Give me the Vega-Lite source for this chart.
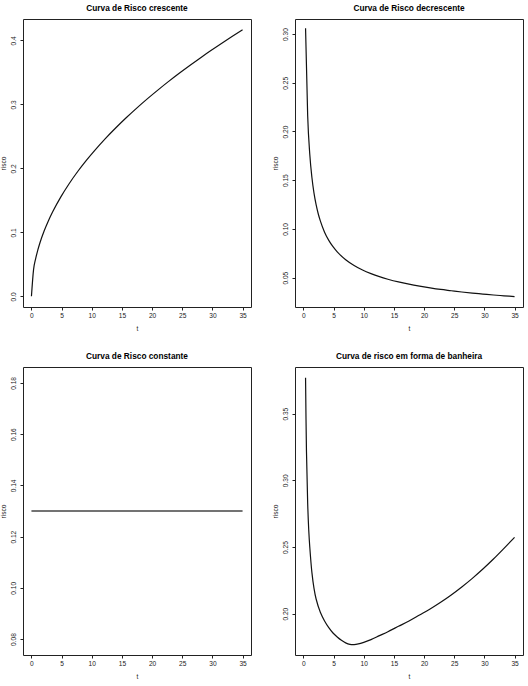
{
  "$schema": "https://vega.github.io/schema/vega-lite/v6.json",
  "background": "white",
  "padding": {"left": 0, "top": 3, "right": 0, "bottom": 0},
  "bounds": "flush",
  "columns": 2,
  "spacing": {"row": 60, "column": 44},
  "config": {
    "font": "Liberation Sans",
    "view": {"stroke": "#222", "strokeWidth": 1},
    "axis": {
      "grid": false,
      "domain": false,
      "ticks": true,
      "tickColor": "#222",
      "tickSize": 3,
      "labelFont": "Liberation Sans",
      "labelFontSize": 6.6,
      "labelColor": "#222",
      "titleFont": "Liberation Sans",
      "titleFontSize": 6.6,
      "titleFontWeight": "normal",
      "titleColor": "#222"
    },
    "axisX": {"labelPadding": 2.5, "titlePadding": 6.5},
    "axisY": {"labelAngle": 270, "labelAlign": "center", "labelBaseline": "bottom", "labelPadding": 4, "titlePadding": 3.5},
    "title": {"fontSize": 8.3, "fontWeight": "bold", "anchor": "middle", "frame": "group", "offset": 7, "color": "black"},
    "line": {"color": "#111", "strokeWidth": 1.2}
  },
  "datasets": {
    "crescente": [
      {"t": 0, "risco": 0},
      {"t": 0.35, "risco": 0.0416},
      {"t": 0.7, "risco": 0.0589},
      {"t": 1.05, "risco": 0.0721},
      {"t": 1.4, "risco": 0.0833},
      {"t": 2.1, "risco": 0.102},
      {"t": 2.8, "risco": 0.1178},
      {"t": 3.5, "risco": 0.1317},
      {"t": 4.9, "risco": 0.1558},
      {"t": 6.3, "risco": 0.1767},
      {"t": 7.7, "risco": 0.1954},
      {"t": 9.1, "risco": 0.2124},
      {"t": 10.5, "risco": 0.2281},
      {"t": 12.25, "risco": 0.2464},
      {"t": 14, "risco": 0.2634},
      {"t": 15.75, "risco": 0.2794},
      {"t": 17.5, "risco": 0.2945},
      {"t": 19.25, "risco": 0.3089},
      {"t": 21, "risco": 0.3226},
      {"t": 22.75, "risco": 0.3358},
      {"t": 24.5, "risco": 0.3485},
      {"t": 26.25, "risco": 0.3607},
      {"t": 28, "risco": 0.3725},
      {"t": 29.75, "risco": 0.384},
      {"t": 31.5, "risco": 0.3951},
      {"t": 33.25, "risco": 0.4059},
      {"t": 35, "risco": 0.4165}
    ],
    "decrescente": [
      {"t": 0.35, "risco": 0.3059},
      {"t": 0.7, "risco": 0.2163},
      {"t": 1.05, "risco": 0.1766},
      {"t": 1.4, "risco": 0.153},
      {"t": 1.75, "risco": 0.1368},
      {"t": 2.1, "risco": 0.1249},
      {"t": 2.45, "risco": 0.1156},
      {"t": 2.8, "risco": 0.1082},
      {"t": 3.5, "risco": 0.0967},
      {"t": 4.2, "risco": 0.0883},
      {"t": 4.9, "risco": 0.0818},
      {"t": 5.6, "risco": 0.0765},
      {"t": 7, "risco": 0.0684},
      {"t": 8.4, "risco": 0.0625},
      {"t": 9.8, "risco": 0.0578},
      {"t": 11.2, "risco": 0.0541},
      {"t": 12.6, "risco": 0.051},
      {"t": 14, "risco": 0.0484},
      {"t": 15.75, "risco": 0.0456},
      {"t": 17.5, "risco": 0.0433},
      {"t": 19.25, "risco": 0.0413},
      {"t": 21, "risco": 0.0395},
      {"t": 22.75, "risco": 0.0379},
      {"t": 24.5, "risco": 0.0366},
      {"t": 26.25, "risco": 0.0353},
      {"t": 28, "risco": 0.0342},
      {"t": 29.75, "risco": 0.0332},
      {"t": 31.5, "risco": 0.0322},
      {"t": 33.25, "risco": 0.0314},
      {"t": 35, "risco": 0.0306}
    ],
    "constante": [
      {"t": 0, "risco": 0.13},
      {"t": 35, "risco": 0.13}
    ],
    "banheira": [
      {"t": 0.35, "risco": 0.377},
      {"t": 0.5, "risco": 0.322},
      {"t": 0.7, "risco": 0.283},
      {"t": 0.875, "risco": 0.263},
      {"t": 1.05, "risco": 0.25},
      {"t": 1.4, "risco": 0.231},
      {"t": 1.75, "risco": 0.219},
      {"t": 2.1, "risco": 0.211},
      {"t": 2.8, "risco": 0.201},
      {"t": 3.5, "risco": 0.1945},
      {"t": 4.2, "risco": 0.1895},
      {"t": 4.9, "risco": 0.1855},
      {"t": 5.6, "risco": 0.1825},
      {"t": 6.3, "risco": 0.18},
      {"t": 7, "risco": 0.1781},
      {"t": 7.7, "risco": 0.1770},
      {"t": 8.4, "risco": 0.1768},
      {"t": 9.1, "risco": 0.1773},
      {"t": 10, "risco": 0.1785},
      {"t": 11.2, "risco": 0.1805},
      {"t": 12.6, "risco": 0.1835},
      {"t": 14, "risco": 0.1865},
      {"t": 15.75, "risco": 0.1905},
      {"t": 17.5, "risco": 0.1945},
      {"t": 19.25, "risco": 0.199},
      {"t": 21, "risco": 0.2035},
      {"t": 22.75, "risco": 0.2085},
      {"t": 24.5, "risco": 0.214},
      {"t": 26.25, "risco": 0.22},
      {"t": 28, "risco": 0.2265},
      {"t": 29.75, "risco": 0.2335},
      {"t": 31.5, "risco": 0.241},
      {"t": 33.25, "risco": 0.249},
      {"t": 35, "risco": 0.2572}
    ]
  },
  "concat": [
    {
      "title": "Curva de Risco crescente",
      "width": 228,
      "height": 288,
      "data": {"name": "crescente"},
      "mark": {"type": "line", "interpolate": "monotone"},
      "encoding": {
        "x": {"field": "t", "type": "quantitative", "scale": {"domain": [-1.4, 36.4], "nice": false, "zero": false}, "axis": {"values": [0, 5, 10, 15, 20, 25, 30, 35], "title": "t"}},
        "y": {"field": "risco", "type": "quantitative", "scale": {"domain": [-0.0167, 0.4333], "nice": false, "zero": false}, "axis": {"values": [0, 0.1, 0.2, 0.3, 0.4], "format": ".1f", "title": "risco"}}
      }
    },
    {
      "title": "Curva de Risco decrescente",
      "width": 228,
      "height": 288,
      "data": {"name": "decrescente"},
      "mark": {"type": "line", "interpolate": "monotone"},
      "encoding": {
        "x": {"field": "t", "type": "quantitative", "scale": {"domain": [-1.4, 36.4], "nice": false, "zero": false}, "axis": {"values": [0, 5, 10, 15, 20, 25, 30, 35], "title": "t"}},
        "y": {"field": "risco", "type": "quantitative", "scale": {"domain": [0.0199, 0.3154], "nice": false, "zero": false}, "axis": {"values": [0.05, 0.1, 0.15, 0.2, 0.25, 0.3], "format": ".2f", "title": "risco"}}
      }
    },
    {
      "title": "Curva de Risco constante",
      "width": 228,
      "height": 288,
      "data": {"name": "constante"},
      "mark": {"type": "line", "color": "#444", "strokeWidth": 1.5},
      "encoding": {
        "x": {"field": "t", "type": "quantitative", "scale": {"domain": [-1.4, 36.4], "nice": false, "zero": false}, "axis": {"values": [0, 5, 10, 15, 20, 25, 30, 35], "title": "t"}},
        "y": {"field": "risco", "type": "quantitative", "scale": {"domain": [0.0738, 0.1862], "nice": false, "zero": false}, "axis": {"values": [0.08, 0.1, 0.12, 0.14, 0.16, 0.18], "format": ".2f", "title": "risco"}}
      }
    },
    {
      "title": "Curva de risco em forma de banheira",
      "width": 228,
      "height": 288,
      "data": {"name": "banheira"},
      "mark": {"type": "line", "interpolate": "catmull-rom"},
      "encoding": {
        "x": {"field": "t", "type": "quantitative", "scale": {"domain": [-1.4, 36.4], "nice": false, "zero": false}, "axis": {"values": [0, 5, 10, 15, 20, 25, 30, 35], "title": "t"}},
        "y": {"field": "risco", "type": "quantitative", "scale": {"domain": [0.169, 0.385], "nice": false, "zero": false}, "axis": {"values": [0.2, 0.25, 0.3, 0.35], "format": ".2f", "title": "risco"}}
      }
    }
  ]
}
